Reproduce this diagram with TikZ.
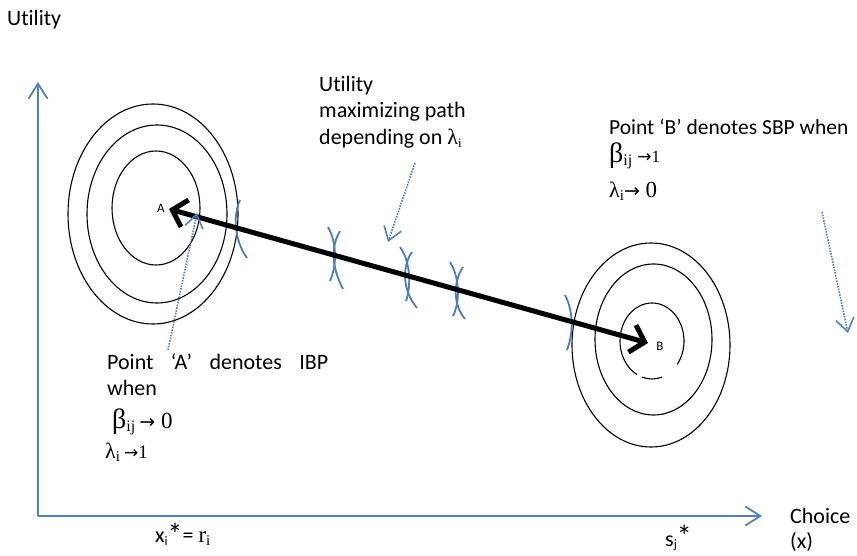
\documentclass[tikz,border=0pt]{standalone}
\usepackage{fontspec}
\setmainfont{Carlito}[Ligatures=NoCommon]
\newfontfamily\serif{Liberation Serif}
\newfontfamily\arr{DejaVu Sans}
\usetikzlibrary{arrows.meta}
\definecolor{axblue}{RGB}{79,129,189}
\definecolor{mkblue}{RGB}{74,126,187}
\newcommand\subs[2][13]{\raisebox{-3pt}{\fontsize{#1}{#1}\selectfont #2}}
\newcommand\fs[1]{\fontsize{#1}{#1}\selectfont}
\begin{document}
\begin{tikzpicture}[x=1pt,y=-1pt,
  axis/.style={axblue, line width=1.8pt, -{Straight Barb[length=15pt,width=19pt,line width=1.8pt]}},
  ell/.style={black, line width=1.1pt},
  icmark/.style={mkblue, line width=1.8pt},
  dotarrow/.style={axblue, line width=1.6pt, dash pattern=on 1.6pt off 1.2pt, -{Straight Barb[length=13pt,width=18pt,line width=1.6pt]}},
  bigarrow/.style={line width=5pt, {Straight Barb[length=13pt,width=28pt,line width=5pt]}-{Straight Barb[length=13pt,width=28pt,line width=5pt]}},
  txt/.style={anchor=base west, inner sep=0pt, font=\fs{22}},
  ptlabel/.style={inner sep=0pt, font=\fs{13}}]
\useasboundingbox (0,0) rectangle (857,556);
% axes
\coordinate (O) at (38,516);
\coordinate (ytop) at (38,82);
\coordinate (xend) at (762,516);
\draw[axis] (O) -- (ytop);
\draw[axis] (O) -- (xend);
% A ellipses
\draw[ell] (156,208) ellipse[x radius=44, y radius=57];
\draw[ell] (157,214) ellipse[x radius=70, y radius=89];
\draw[ell] (153,214) ellipse[x radius=85, y radius=110];
% B ellipses
\draw[ell] (652,341) ++(118:32 and 38) arc[start angle=118, end angle=398, x radius=32, y radius=38];
\draw[ell] (652,341) ++(72:32 and 38) arc[start angle=72, end angle=108, x radius=32, y radius=38];
\draw[ell] (653.5,339.5) ellipse[x radius=58.5, y radius=75.5];
\draw[ell] (651,345) ellipse[x radius=79, y radius=102];
% point labels
\node[ptlabel] (lA) at (161,208) {A};
\node[ptlabel] (lB) at (660,346) {B};
\coordinate (Atip) at (169,209);
\coordinate (Btip) at (648,343);
% blue indifference marks
\draw[icmark] (240,200) .. controls (233,215) and (234,240) .. (247,258);
\draw[icmark] (328,227) .. controls (337,243) and (337,265) .. (330,281);
\draw[icmark] (340,231) .. controls (331,246) and (331,266) .. (343,289);
\draw[icmark] (400,247) .. controls (411,262) and (411,287) .. (406,301);
\draw[icmark] (412,252) .. controls (402,266) and (402,290) .. (417,308);
\draw[icmark] (450,262) .. controls (460,278) and (460,302) .. (453,316);
\draw[icmark] (463,267) .. controls (453,282) and (453,305) .. (465,319);
\draw[icmark] (565,295) .. controls (573,310) and (574,332) .. (567,350);
% main arrow
\draw[bigarrow] (Atip) -- (Btip);
% dotted pointer arrows
\coordinate (p1s) at (415,163); \coordinate (p1e) at (388,242);
\coordinate (p2s) at (822,212); \coordinate (p2e) at (848,333);
\coordinate (p3s) at (168,350); \coordinate (p3e) at (197,213);
\draw[dotarrow] (p1s) -- (p1e);
\draw[dotarrow] (p2s) -- (p2e);
\draw[dotarrow] (p3s) -- (p3e);
% texts
\node[txt] (ylab) at (7,26) {Utility};
\node[txt] (m1) at (319,92) {Utility};
\node[txt] (m2) at (319,118) {maximizing path};
\node[txt] (m3) at (319,145) {depending on {\serif λ}\subs{\serif i}};
\node[txt,font=\fs{21.5}] (b1) at (609,135) {Point ‘B’ denotes SBP when};
\node[txt] (b2) at (609,163) {{\serif\fs{28}β}\subs[16]{\serif ij}\hspace{5pt}{\arr\fs{17}→}{\serif\fs{17}1}};
\node[txt] (b3) at (609,198) {{\serif\fs{22}λ}\subs[15]{\serif i}{\arr\fs{19}→}{\serif\fs{23} 0}};
\node[txt] (a1) at (107,369) {\makebox[221pt][s]{Point\hfill‘A’\hfill denotes\hfill IBP}};
\node[txt] (a2) at (107,395) {when};
\node[txt] (a3) at (112,428) {{\serif\fs{28}β}\subs[16]{\serif ij}\hspace{4pt}{\arr\fs{19}→}{\serif\fs{23} 0}};
\node[txt] (a4) at (105,458) {{\serif\fs{22}λ}\subs[15]{\serif i}\hspace{4pt}{\arr\fs{17}→}{\serif\fs{19}1}};
\node[txt] (xl) at (155,542) {x\subs{i}\raisebox{-2pt}{\fs{30}*}= {\serif\fs{23}r\subs[15]{i}}};
\node[txt] (sl) at (665,546) {s\raisebox{-2pt}{\fs{13}j}{\fs{30}*}};
\node[txt] (c1) at (790,523) {Choice};
\node[txt] (c2) at (790,548) {(x)};
\end{tikzpicture}
\end{document}
